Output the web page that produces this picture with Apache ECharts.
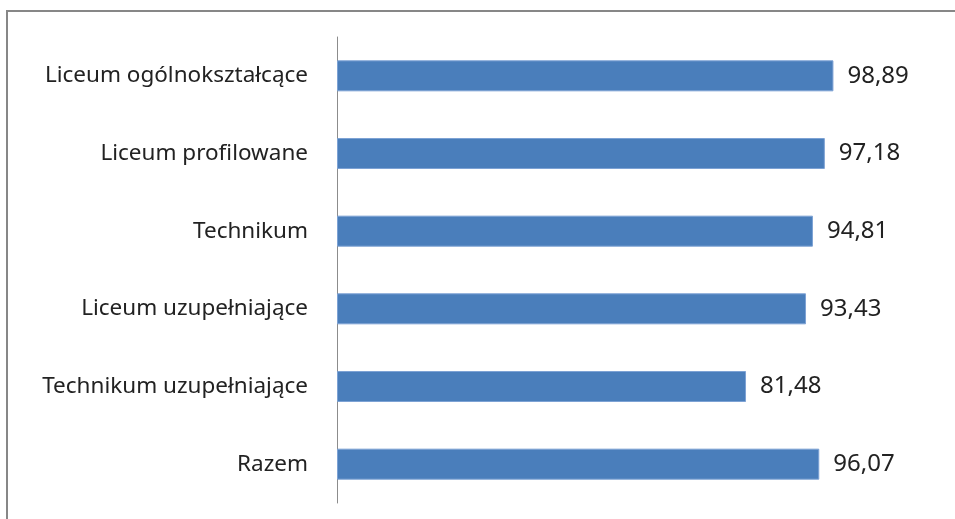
<!DOCTYPE html>
<html>
<head>
<meta charset="utf-8">
<script src="https://cdn.jsdelivr.net/npm/echarts@6/dist/echarts.min.js"></script>
<style>
html,body{margin:0;padding:0;background:#fff;}
#main{width:955px;height:519px;}
</style>
</head>
<body>
<div id="main"></div>
<script>
// kategorie i wartości (od góry do dołu)
var categories=['Liceum ogólnokształcące','Liceum profilowane','Technikum','Liceum uzupełniające','Technikum uzupełniające','Razem'];
var values=[98.89,97.18,94.81,93.43,81.48,96.07];

var chart=echarts.init(document.getElementById('main'));
var option={
    backgroundColor:'#fff',
    animation:false,
    graphic:[{
        type:'rect',
        shape:{x:7,y:11,width:1000,height:600},
        style:{fill:'none',stroke:'#878787',lineWidth:2}
    }],
    grid:{left:337,right:116,top:37,bottom:16},
    xAxis:{
        type:'value',
        min:0,
        max:100,
        show:false
    },
    yAxis:{
        type:'category',
        inverse:true,
        data:categories,
        axisLine:{lineStyle:{color:'#8c8c8c',width:1}},
        axisTick:{show:false},
        axisLabel:{
            margin:29,
            fontFamily:'Noto Sans',
            fontSize:22.5,
            color:'#222'
        }
    },
    series:[{
        type:'bar',
        data:values,
        barWidth:31,
        itemStyle:{color:'#4a7ebb',borderColor:'#7da2d4',borderWidth:1},
        label:{
            show:true,
            position:'right',
            distance:14,
            fontFamily:'Noto Sans',
            fontSize:24,
            color:'#222',
            formatter:function(p){return p.value.toFixed(2).replace('.',',');}
        }
    }]
};
chart.setOption(option);
</script>
</body>
</html>
